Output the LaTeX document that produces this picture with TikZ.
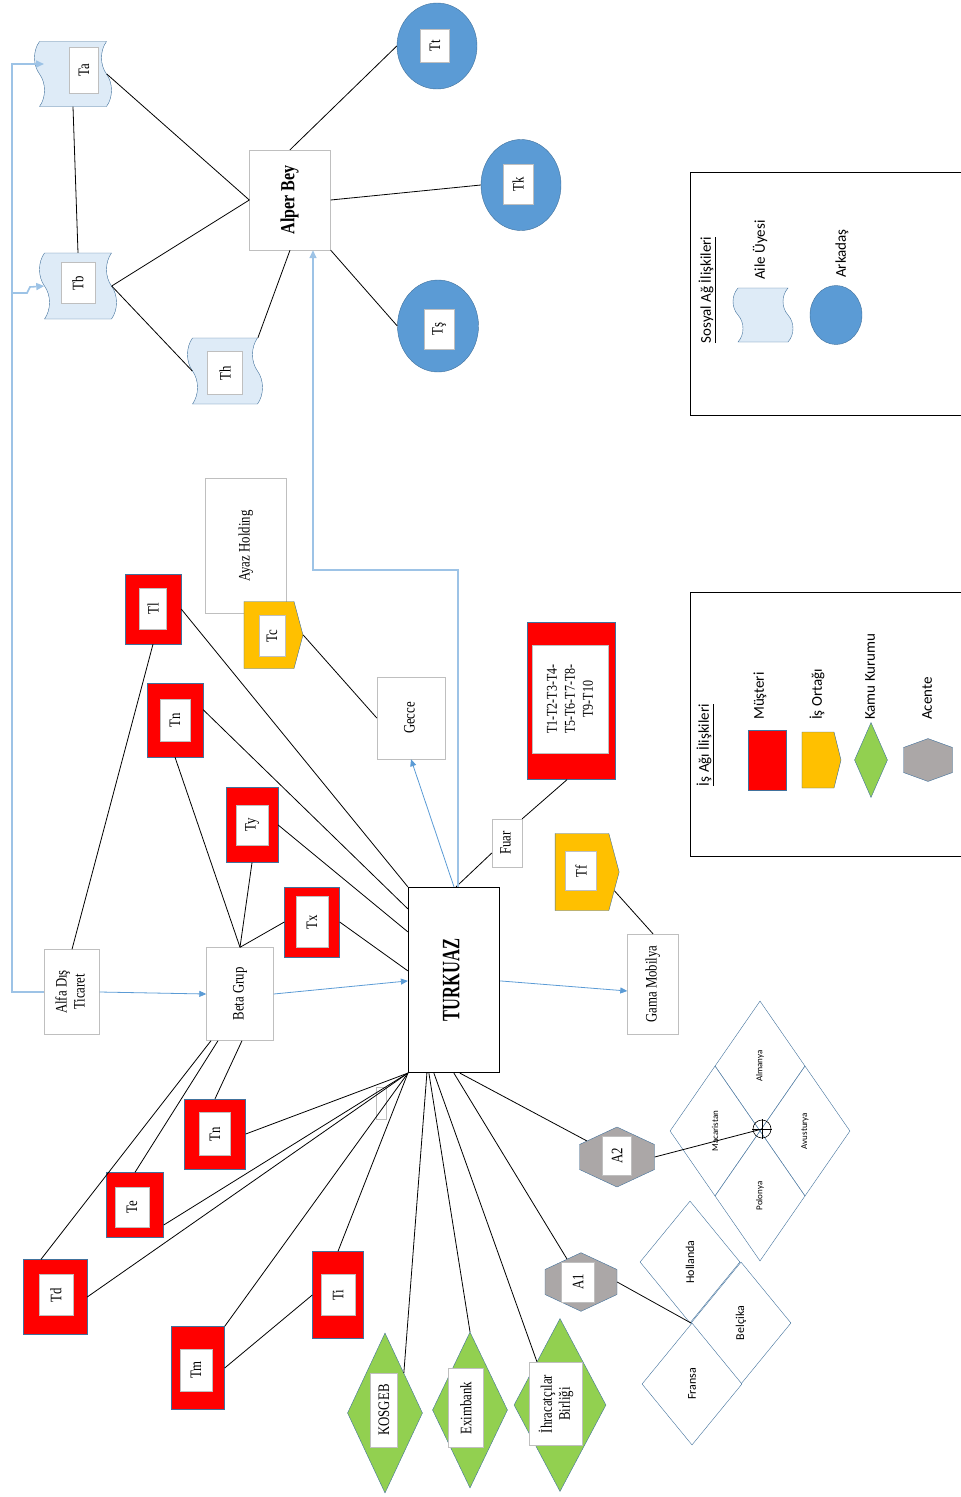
\documentclass[tikz,border=0pt]{standalone}
\usepackage{fontspec}
\setmainfont{Liberation Serif}[FakeStretch=0.8]
\newfontfamily\turkfont{Liberation Serif}[FakeStretch=0.66]
\newfontfamily\legfont{Carlito}
\usetikzlibrary{shapes.geometric, shapes.symbols, arrows.meta, positioning}

\definecolor{edgeblue}{HTML}{41719C}
\definecolor{redfill}{HTML}{FF0000}
\definecolor{orangefill}{HTML}{FFC000}
\definecolor{greenfill}{HTML}{92D050}
\definecolor{grayfill}{HTML}{ABA7A7}
\definecolor{circfill}{HTML}{5B9BD5}
\definecolor{tapefill}{HTML}{DEEBF7}
\definecolor{boxgray}{HTML}{BFBFBF}
\definecolor{flowblue}{HTML}{5B9BD5}
\definecolor{routeblue}{HTML}{9DC3E6}

\newcommand{\lbl}{\fontsize{16}{18}\selectfont}
\newcommand{\rt}[1]{\rotatebox{90}{\begin{tabular}{@{}c@{}}#1\end{tabular}}}

\tikzset{
  pbox/.style={draw=boxgray, fill=white, inner sep=0pt, font=\lbl},
  musteri/.style={draw=edgeblue, fill=redfill, inner sep=0pt},
  ortak/.style={signal, signal to=east, signal pointer angle=150, draw=edgeblue, fill=orangefill, inner sep=0pt},
  kamu/.style={diamond, draw=edgeblue, fill=greenfill, inner sep=0pt},
  acente/.style={signal, signal to=north and south, signal pointer angle=130, draw=edgeblue, fill=grayfill, inner sep=0pt},
  arkadas/.style={ellipse, draw=edgeblue, fill=circfill, inner sep=0pt},
  aile/.style={tape, rotate=90, draw=edgeblue, fill=tapefill, inner sep=0pt, tape bend height=10pt},
  ibox/.style={draw=boxgray, fill=white, rotate=90, inner sep=0pt, font=\lbl},
  land/.style={diamond, rotate=90, draw=edgeblue, fill=white, inner sep=0pt, font=\legfont\fontsize{9}{10}\selectfont},
  landb/.style={land, font=\legfont\fontsize{12}{13}\selectfont},
  link/.style={black, line width=0.8pt},
  flow/.style={flowblue, line width=0.8pt, -{Triangle[length=7pt,width=6pt]}},
  route/.style={routeblue, line width=1.6pt, -{Triangle[length=8pt,width=7pt]}},
  legtxt/.style={rotate=90, anchor=west, inner sep=0pt, font=\legfont\fontsize{15}{16}\selectfont},
}

\begin{document}
\begin{tikzpicture}[x=1pt, y=-1pt]
\useasboundingbox (0,0) rectangle (961,1497);

% Sosyal ag
\node[aile, minimum width=65, minimum height=77] (ta) at (73,74) {};
\node[ibox, minimum width=46, minimum height=29] (ta-t) at (84,70) {Ta};
\node[aile, minimum width=66, minimum height=77] (tb) at (78,286) {};
\node[ibox, minimum width=41, minimum height=34] (tb-t) at (78,283) {Tb};
\node[aile, minimum width=66, minimum height=75] (th) at (225,371) {};
\node[ibox, minimum width=43, minimum height=35] (th-t) at (225,373) {Th};

\node[pbox, minimum width=81, minimum height=100, font=\bfseries\fontsize{20}{22}\selectfont] (alper) at (290,200) {\rt{Alper Bey}};

\node[arkadas, minimum width=80, minimum height=86] (tt) at (437,46) {};
\node[ibox, minimum width=33, minimum height=29] (tt-t) at (435,46) {Tt};
\node[arkadas, minimum width=80, minimum height=91] (tk) at (521,185) {};
\node[ibox, minimum width=40, minimum height=30] (tk-t) at (518,184) {Tk};
\node[arkadas, minimum width=81, minimum height=92] (ts) at (438,326) {};
\node[ibox, minimum width=40, minimum height=30] (ts-t) at (439,329) {Tş};

% Is agi
\node[pbox, minimum width=81, minimum height=135] (ayaz) at (246,546) {\rt{Ayaz Holding}};
\node[ortak, minimum width=59, minimum height=67] (tc) at (269,635) {};
\node[ibox, minimum width=41, minimum height=26] (tc-t) at (272,636) {Tc};
\node[pbox, minimum width=68, minimum height=82] (gecce) at (411,718) {\rt{Gecce}};
\node[pbox, minimum width=30, minimum height=48] (fuar) at (507,843) {\rt{Fuar}};
\node[ortak, minimum width=64, minimum height=77] (tf) at (582,872) {};
\node[ibox, minimum width=39, minimum height=31] (tf-t) at (581,871) {Tf};
\node[pbox, minimum width=51, minimum height=100] (gama) at (653,984) {\rt{Gama Mobilya}};
\node[pbox, minimum width=55, minimum height=85] (alfa) at (72,992) {\rt{Alfa Dış\\Ticaret}};
\node[pbox, minimum width=67, minimum height=93] (beta) at (240,994) {\rt{Beta Grup}};
\node[draw=black, line width=1.2pt, fill=white, minimum width=91, minimum height=185, inner sep=0pt,
      font=\turkfont\bfseries\fontsize{25}{27}\selectfont] (turk) at (454,980) {\rt{TURKUAZ}};

% Musteriler
\node[musteri, minimum width=56, minimum height=70] (tl) at (153,609) {};
\node[ibox, minimum width=41, minimum height=27] (tl-t) at (tl) {Tl};
\node[musteri, minimum width=56, minimum height=74] (tn1) at (175,720) {};
\node[ibox, minimum width=42, minimum height=30] (tn1-t) at (tn1) {Tn};
\node[musteri, minimum width=52, minimum height=75] (ty) at (252,825) {};
\node[ibox, minimum width=40, minimum height=32] (ty-t) at (ty) {Ty};
\node[musteri, minimum width=55, minimum height=70] (tx) at (312,922) {};
\node[ibox, minimum width=51, minimum height=32] (tx-t) at (tx) {Tx};
\node[musteri, minimum width=61, minimum height=70] (tn2) at (215,1134) {};
\node[ibox, minimum width=43, minimum height=31] (tn2-t) at (tn2) {Tn};
\node[musteri, minimum width=57, minimum height=65] (te) at (135,1205) {};
\node[ibox, minimum width=40, minimum height=34] (te-t) at (132,1207) {Te};
\node[musteri, minimum width=64, minimum height=75] (td) at (55,1297) {};
\node[ibox, minimum width=41, minimum height=34] (td-t) at (56,1295) {Td};
\node[musteri, minimum width=53, minimum height=83] (tm) at (198,1368) {};
\node[ibox, minimum width=42, minimum height=32] (tm-t) at (196,1370) {Tm};
\node[musteri, minimum width=51, minimum height=87] (ti) at (338,1295) {};
\node[ibox, minimum width=41, minimum height=34] (ti-t) at (338,1295) {Ti};
\node[musteri, minimum width=88, minimum height=157] (tbig) at (571,701) {};
\node[ibox, minimum width=108, minimum height=76, align=center, font=\fontsize{15}{18}\selectfont] (tbig-t) at (570,699) {T1-T2-T3-T4-\\T5-T6-T7-T8-\\T9-T10};

% Kamu kurumlari
\node[kamu, minimum width=75, minimum height=160] (kosgeb) at (385,1413) {};
\node[ibox, minimum width=74, minimum height=27] (kosgeb-t) at (384,1410) {KOSGEB};
\node[kamu, minimum width=75, minimum height=156] (exim) at (470,1410) {};
\node[ibox, minimum width=79, minimum height=35] (exim-t) at (466,1408) {Eximbank};
\node[kamu, minimum width=92, minimum height=173] (ihr) at (560,1405) {};
\node[ibox, minimum width=83, minimum height=53, align=center] (ihr-t) at (556,1404) {İhracatçılar\\Birliği};

% Acenteler
\node[acente, minimum width=75, minimum height=25] (a2) at (617,1157) {};
\node[ibox, minimum width=39, minimum height=29] (a2-t) at (617,1156) {A2};
\node[acente, minimum width=72, minimum height=25] (a1) at (581,1282) {};
\node[ibox, minimum width=40, minimum height=33] (a1-t) at (578,1282) {A1};

% Ulkeler
\node[land, minimum width=130, minimum height=90] (almanya) at (760,1066) {Almanya};
\node[land, minimum width=130, minimum height=90] (macaristan) at (715,1131) {Macaristan};
\node[land, minimum width=130, minimum height=90] (avusturya) at (805,1131) {Avusturya};
\node[land, minimum width=130, minimum height=90] (polonya) at (760,1196) {Polonya};
\node[landb, minimum width=122, minimum height=100] (hollanda) at (690,1262) {Hollanda};
\node[landb, minimum width=122, minimum height=100] (belcika) at (741,1323) {Belçika};
\node[landb, minimum width=122, minimum height=100] (fransa) at (692,1384) {Fransa};
\coordinate (cross) at (762,1129);
\coordinate (g) at (691,1323);
\draw[black, line width=0.6pt] (cross) circle[radius=9pt];
\draw[black, line width=0.6pt] ([yshift=10pt]cross) -- ([yshift=-10pt]cross) ([xshift=-10pt]cross) -- ([xshift=10pt]cross);

\draw[boxgray] (376,1087) rectangle (386,1119);

% Baglantilar
\draw[link] (ta.west) -- (tb.east);
\draw[link] (ta.south) -- (alper.west);
\draw[link] (tb.south) -- (alper.west);
\draw[link] (tb.south) -- (th.north);
\draw[link] (th.south east) -- (alper.south);
\draw[link] (alper.north) -- (tt.west);
\draw[link] (alper.east) -- (tk.west);
\draw[link] (alper.south east) -- (ts.west);

\draw[link] (tl.south) -- (alfa.north);
\draw[link] (tl.east) -- (turk.north west);
\draw[link] (tn1.20) -- ([yshift=-22pt]turk.north west);
\draw[link] (tn1.south) -- (beta.north);
\draw[link] (ty.east) -- ([yshift=-45pt]turk.north west);
\draw[link] (ty.south) -- (beta.north);
\draw[link] (tx.west) -- (beta.north);
\draw[link] (tx.east) -- ([yshift=-84pt]turk.north west);
\draw[link] (tc.east) -- (gecce.west);
\draw[link] ([yshift=-10pt]fuar.west) -- ([xshift=2pt]turk.north);
\draw[link] (fuar.north east) -- ([xshift=-4pt]tbig.south);
\draw[link] (tf.-30) -- (gama.north);

\draw[link] ([xshift=2pt]beta.south) -- (tn2.north);
\draw[link] ([xshift=-22pt]beta.south) -- (te.north);
\draw[link] ([xshift=-29pt]beta.south) -- ([xshift=-14pt]td.north);
\draw[link] (turk.south west) -- (tn2.east);
\draw[link] (turk.south west) -- ([yshift=-20pt]te.east);
\draw[link] (turk.south west) -- (td.east);
\draw[link] (turk.south west) -- (tm.north east);
\draw[link] (turk.south west) -- (ti.north);
\draw[link] (tm.east) -- (ti.west);

\draw[link] ([xshift=19pt]turk.south west) -- (kosgeb.north east);
\draw[link] ([xshift=21pt]turk.south west) -- (exim.north);
\draw[link] ([xshift=26pt]turk.south west) -- (ihr.north west);
\draw[link] ([xshift=46pt]turk.south west) -- (a1);
\draw[link] ([xshift=52pt]turk.south west) -- (a2);
\draw[link] (a2.east) -- (cross);
\draw[link] (a1.east) -- (g);

% Akislar
\draw[flow] (alfa.east) -- (beta.west);
\draw[flow] (beta.east) -- ([yshift=-94pt]turk.north west);
\draw[flow] ([yshift=-94pt]turk.north east) -- ([yshift=-7pt]gama.west);
\draw[flow] (turk.north) -- (gecce.south);

\coordinate (rt1) at (458,570);
\coordinate (rt2) at (313,570);
\draw[route] (turk.north -| rt1) -- (rt1) -- (rt2) -- (rt2 |- alper.south);
\coordinate (lf1) at (12,992);
\coordinate (lf2) at (12,64);
\coordinate (lf3) at (12,293);
\coordinate (ta-in) at (44,64);
\draw[route] (alfa.west) -- (lf1) -- (lf2) -- (ta-in);
\draw[route] (lf3) -- ++(15,0) -- ++(3,-6) -- (tb.north);

% Lejant
\draw[black, line width=1pt] (690,172) rectangle (970,415);
\node[legtxt, anchor=center] (sos-head) at (707,290) {\underline{Sosyal Ağ İlişkileri}};
\node[aile, minimum width=54, minimum height=60] (leg-aile) at (763,315) {};
\node[legtxt] (leg-aile-t) at (760,280) {Aile Üyesi};
\node[arkadas, minimum width=52, minimum height=59] (leg-ark) at (836,315) {};
\node[legtxt] (leg-ark-t) at (842,278) {Arkadaş};

\draw[black, line width=1pt] (690,592) rectangle (970,856);
\node[legtxt, anchor=center] (is-head) at (705,745) {\underline{İş Ağı İlişkileri}};
\node[musteri, minimum width=38, minimum height=60] (leg-mus) at (767,760) {};
\node[legtxt] (leg-mus-t) at (760,720) {Müşteri};
\node[ortak, minimum width=39, minimum height=56, signal pointer angle=152] (leg-ort) at (818,760) {};
\node[legtxt] (leg-ort-t) at (817,720) {İş Ortağı};
\node[kamu, minimum width=33, minimum height=75] (leg-kamu) at (871,760) {};
\node[legtxt] (leg-kamu-t) at (870,720) {Kamu Kurumu};
\node[acente, minimum width=49, minimum height=25, signal pointer angle=140] (leg-ac) at (928,760) {};
\node[legtxt] (leg-ac-t) at (927,720) {Acente};
\end{tikzpicture}
\end{document}
